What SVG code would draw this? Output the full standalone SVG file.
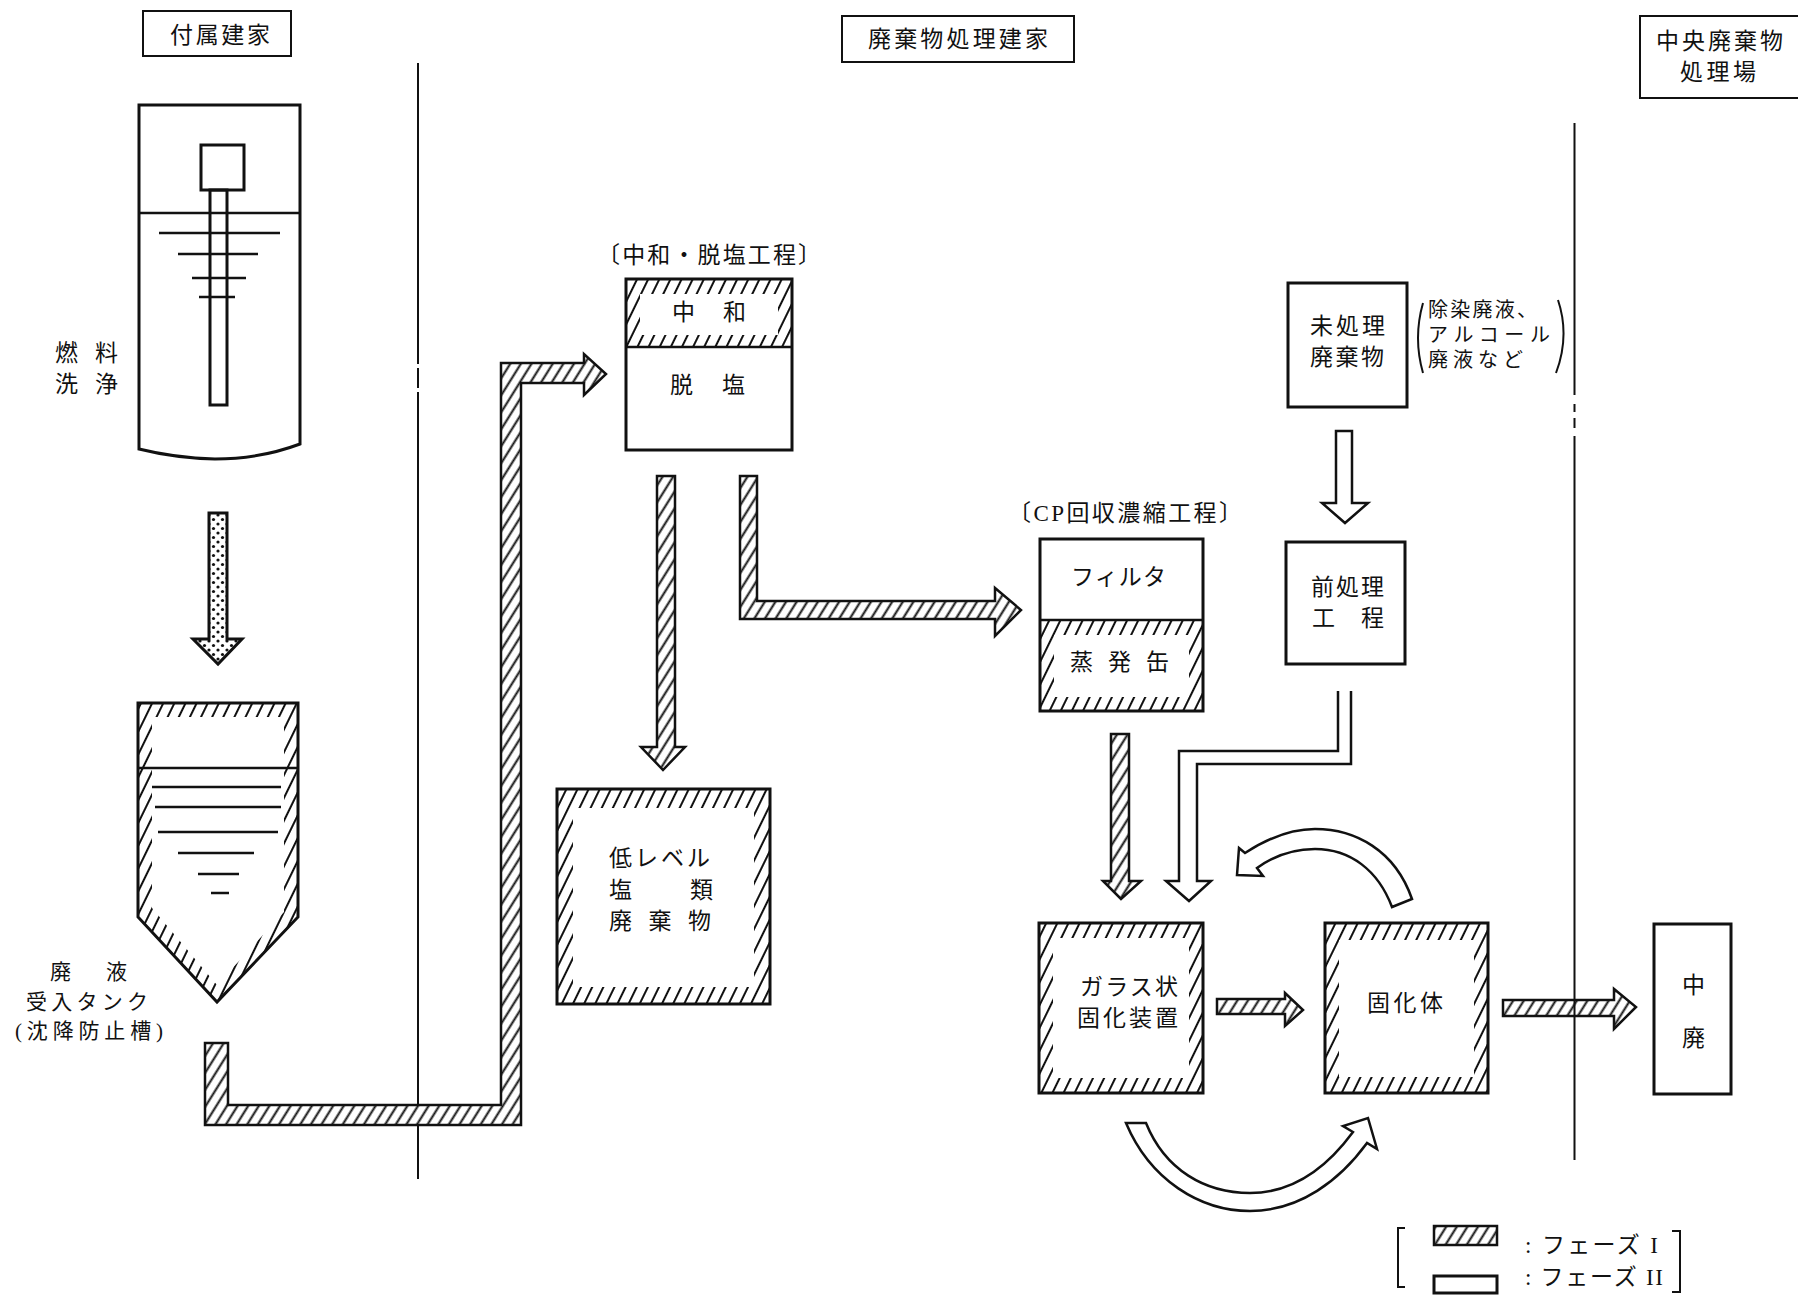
<svg xmlns="http://www.w3.org/2000/svg" width="1798" height="1295" viewBox="0 0 1798 1295">
<style>
text{font-family:"Noto Sans CJK JP","Noto Sans",sans-serif;font-size:23px;fill:#111;text-anchor:start;dominant-baseline:central}
text.lat{font-family:"Liberation Serif","Noto Sans CJK JP",serif}
text.sm{font-size:21px}
text.xs{font-size:20px}
.bx{fill:none;stroke:#111;stroke-width:3;stroke-linejoin:miter}
.th{fill:none;stroke:#111;stroke-width:2}
.tn{fill:none;stroke:#111;stroke-width:2.5}
.wh{fill:#fff;stroke:#111;stroke-width:2.5;stroke-linejoin:miter}
.ha{fill:url(#hatchA);stroke:#111;stroke-width:2.5;stroke-linejoin:miter}
.hb{fill:url(#hatchB);fill-rule:evenodd;stroke:none}
.dt{fill:url(#dots);stroke:#111;stroke-width:3;stroke-linejoin:miter}
.div{fill:none;stroke:#111;stroke-width:2}
</style>
<defs>
<pattern id="hatchA" width="9" height="9" patternUnits="userSpaceOnUse" patternTransform="rotate(32)"><rect width="9" height="9" fill="#fff"/><line x1="4.5" y1="0" x2="4.5" y2="9" stroke="#111" stroke-width="2"/></pattern>
<pattern id="hatchB" width="10" height="10" patternUnits="userSpaceOnUse" patternTransform="rotate(26)"><rect width="10" height="10" fill="#fff"/><line x1="5" y1="0" x2="5" y2="10" stroke="#111" stroke-width="2"/></pattern>
<pattern id="dots" width="9" height="9" patternUnits="userSpaceOnUse"><rect width="9" height="9" fill="#fff"/><circle cx="2" cy="2" r="1.6" fill="#111"/><circle cx="6.5" cy="6.5" r="1.6" fill="#111"/></pattern>
</defs>

<g id="divider-lines">
<path class="div" d="M418 63V364M418 368V388M418 392V1179"/>
</g>

<g id="connectors">
<polygon id="c-dotted" class="dt" points="209,513 227,513 227,639 242,639 218,664 193,639 209,639"/>
<polygon id="c-pipe" class="ha" points="205,1043 228,1043 228,1105 501,1105 501,363 584,363 584,354 606,374 584,395 584,383 521,383 521,1125 205,1125"/>
<polygon id="c-down-low" class="ha" points="657,476 675,476 675,747 685,747 663,770 641,747 657,747"/>
<polygon id="c-to-cp" class="ha" points="740,476 757,476 757,601 995,601 995,588 1021,610 995,636 995,619 740,619"/>
<polygon id="c-cp-down" class="ha" points="1111,734 1129,734 1129,881 1141,881 1121,899 1103,881 1111,881"/>
<polygon id="c-untreated" class="wh" points="1336,431 1352,431 1352,503 1368,503 1345,523 1322,503 1336,503"/>
<path id="c-pre" class="wh" d="M1338 691V751H1179V881H1166L1189 901L1211 881H1197V764H1351V691"/>
<polygon id="c-glass-solid" class="ha" points="1217,999 1285,999 1285,993 1303,1010 1285,1026 1285,1014 1217,1014"/>
<polygon id="c-solid-mid" class="ha" points="1503,1000 1614,1000 1614,989 1636,1007 1614,1029 1614,1016 1503,1016"/>
<path id="c-curve-top" class="wh" d="M1412 899C1395 850 1355 829 1315 829C1290 829 1265 840 1245 853L1239 848L1237 875L1263 876L1257 868C1275 855 1295 849 1315 849C1350 849 1378 870 1392 907Z"/>
<path id="c-curve-bottom" class="wh" d="M1126 1123C1150 1180 1200 1211 1250 1211C1300 1211 1340 1180 1367 1143L1377 1149L1368 1118L1343 1126L1353 1132C1325 1170 1290 1193 1250 1193C1205 1193 1165 1170 1146 1123Z"/>
</g>

<g id="divider-right">
<path class="div" d="M1574.5 123V395M1574.5 404V412M1574.5 418V428M1574.5 436V1160"/>
</g>

<g id="label-annex">
<rect class="th" x="143" y="11" width="148" height="45"/>
<text x="170" y="33" textLength="100">付属建家</text>
</g>
<g id="label-waste-building">
<rect class="th" x="842" y="16" width="232" height="46"/>
<text x="868" y="37" textLength="180">廃棄物処理建家</text>
</g>
<g id="label-central">
<path class="th" d="M1798 16H1640V98H1798"/>
<text x="1656" y="39" textLength="127">中央廃棄物</text>
<text x="1680" y="70" textLength="76">処理場</text>
</g>

<g id="node-fuel-wash">
<path class="bx" d="M139 105H300V444Q260 459 215 459Q175 458 139 449Z"/>
<rect class="bx" x="201" y="145" width="43" height="45"/>
<rect class="bx" x="210" y="190" width="17" height="215"/>
<path class="tn" d="M139 213H300M159 233H280M178 254H258M192 278H246M199 297H235"/>
<text x="55" y="351" textLength="63">燃 料</text>
<text x="55" y="382" textLength="63">洗 浄</text>
</g>

<g id="node-receive-tank">
<path class="hb" d="M138 703H298V917L217 1002L138 917ZM152 717V908L217 985L284 912V717Z"/>
<path class="bx" d="M138 703H298V917L217 1002L138 917Z"/>
<path class="tn" d="M138 768H298M152 787H281M155 807H281M158 832H278M178 853H254M198 874H239M211 893H229"/>
<text class="sm" x="50" y="970" textLength="77">廃 液</text>
<text class="sm" x="26" y="1000" textLength="122">受入タンク</text>
<text class="lat sm" x="15" y="1031" textLength="148">(沈降防止槽)</text>
</g>

<g id="node-neutral-desalt">
<text x="597" y="253" textLength="224">〔中和・脱塩工程〕</text>
<path class="hb" d="M626 279H792V347H626ZM640 294V335H778V294Z"/>
<rect class="bx" x="626" y="279" width="166" height="171"/>
<line class="tn" x1="626" y1="347" x2="792" y2="347"/>
<text x="672" y="310" textLength="74">中 和</text>
<text x="670" y="383" textLength="75">脱 塩</text>
</g>

<g id="node-low-level">
<path class="hb" d="M557 789H770V1004H557ZM573 808V987H754V808Z"/>
<rect class="bx" x="557" y="789" width="213" height="215"/>
<text x="609" y="856" textLength="101">低レベル</text>
<text x="609" y="888" textLength="104">塩 類</text>
<text x="609" y="919" textLength="102">廃 棄 物</text>
</g>

<g id="node-cp">
<text class="lat" x="1008" y="513" textLength="234">〔CP回収濃縮工程〕</text>
<path class="hb" d="M1040 620H1203V711H1040ZM1054 635V697H1189V635Z"/>
<rect class="bx" x="1040" y="539" width="163" height="172"/>
<line class="tn" x1="1040" y1="620" x2="1203" y2="620"/>
<text x="1071" y="575" textLength="95">フィルタ</text>
<text x="1070" y="660" textLength="99">蒸 発 缶</text>
</g>

<g id="node-untreated">
<rect class="bx" x="1288" y="283" width="119" height="124"/>
<text x="1310" y="324" textLength="75">未処理</text>
<text x="1310" y="355" textLength="74">廃棄物</text>
<path class="th" d="M1423 303Q1413 338 1423 373M1558 300Q1570 336 1556 373"/>
<text class="xs" x="1428" y="308" textLength="109">除染廃液、</text>
<text class="xs" x="1428" y="333" textLength="122">アルコール</text>
<text class="xs" x="1428" y="358" textLength="95">廃液など</text>
</g>

<g id="node-pretreat">
<rect class="bx" x="1286" y="542" width="119" height="122"/>
<text x="1311" y="585" textLength="73">前処理</text>
<text x="1312" y="616" textLength="72">工 程</text>
</g>

<g id="node-glass">
<path class="hb" d="M1039 923H1203V1093H1039ZM1053 938V1078H1189V938Z"/>
<rect class="bx" x="1039" y="923" width="164" height="170"/>
<text x="1080" y="985" textLength="98">ガラス状</text>
<text x="1077" y="1016" textLength="101">固化装置</text>
</g>

<g id="node-solid">
<path class="hb" d="M1325 923H1488V1093H1325ZM1339 940V1077H1474V940Z"/>
<rect class="bx" x="1325" y="923" width="163" height="170"/>
<text x="1367" y="1001" textLength="76">固化体</text>
</g>

<g id="node-mid-level">
<rect class="bx" x="1654" y="924" width="77" height="170"/>
<text x="1682" y="983">中</text>
<text x="1682" y="1036">廃</text>
</g>

<g id="legend">
<path class="th" d="M1405 1228H1398V1287H1405M1672 1231H1680V1292H1672"/>
<rect class="ha" x="1434" y="1226" width="63" height="19"/>
<rect class="bx" x="1434" y="1276" width="63" height="17"/>
<text class="lat" x="1525" y="1245" textLength="133">: フェーズ I</text>
<text class="lat" x="1525" y="1277" textLength="138">: フェーズ II</text>
</g>
</svg>
